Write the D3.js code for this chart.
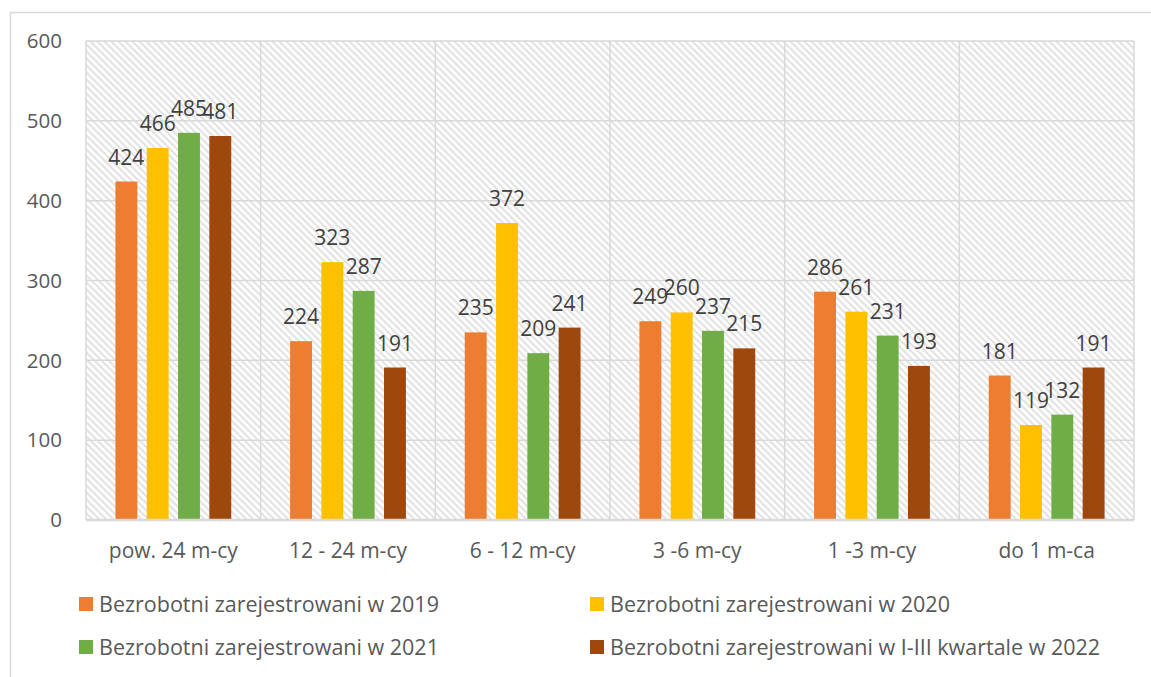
<!DOCTYPE html>
<html>
<head>
<meta charset="utf-8">
<script src="https://cdn.jsdelivr.net/npm/d3@7"></script>
<style>
  body { margin: 0; background: #fff; }
  text { font-family: "Open Sans", "Noto Sans", sans-serif; }
</style>
</head>
<body>
<svg id="chartSvg" width="1151" height="677"></svg>
<script>
const categories = ['pow. 24 m-cy', '12 - 24 m-cy', '6 - 12 m-cy', '3 -6 m-cy', '1 -3 m-cy', 'do 1 m-ca']
const seriesNames = [
    'Bezrobotni zarejestrowani w 2019',
    'Bezrobotni zarejestrowani w 2020',
    'Bezrobotni zarejestrowani w 2021',
    'Bezrobotni zarejestrowani w I-III kwartale w 2022'
]
const values2019 = [424, 224, 235, 249, 286, 181]
const values2020 = [466, 323, 372, 260, 261, 119]
const values2021 = [485, 287, 209, 237, 231, 132]
const values2022 = [481, 191, 241, 215, 193, 191]
const yTicks = [0, 100, 200, 300, 400, 500, 600]
const colours = ['#ed7d31', '#ffc000', '#70ad47', '#9e480e']

const allSeries = [values2019, values2020, values2021, values2022]

window.onload = function(){
    const svg = d3.select('#chartSvg')
    const plot = {left: 86, right: 1134, top: 41, bottom: 520}

    // outer chart frame
    svg.append('rect')
        .attr('x', 10.5).attr('y', 12.5)
        .attr('width', 1150).attr('height', 680)
        .attr('fill', 'none').attr('stroke', '#d9d9d9').attr('stroke-width', 1.5)

    const defs = svg.append('defs')
    const pat = defs.append('pattern')
        .attr('id', 'hatch')
        .attr('patternUnits', 'userSpaceOnUse')
        .attr('width', 7).attr('height', 7)
    pat.append('rect').attr('width', 7).attr('height', 7).attr('fill', '#fff')
    pat.append('path')
        .attr('d', 'M-1,-1 L8,8 M-8,-1 L1,8 M6,-1 L15,8')
        .attr('stroke', '#e3e3e3').attr('stroke-width', 2)

    const x = d3.scaleBand()
        .domain(categories)
        .range([plot.left, plot.right])

    const x1 = d3.scaleBand()
        .domain(d3.range(allSeries.length))
        .range([0, x.bandwidth()])
        .paddingInner(0.3)
        .paddingOuter(0.94)

    const y = d3.scaleLinear()
        .domain([0, 600])
        .range([plot.bottom, plot.top])

    svg.append('rect')
        .attr('x', plot.left).attr('y', plot.top)
        .attr('width', plot.right - plot.left).attr('height', plot.bottom - plot.top)
        .attr('fill', 'url(#hatch)')

    // horizontal gridlines
    svg.append('g')
        .selectAll('line')
        .data(yTicks)
        .join('line')
        .attr('x1', plot.left).attr('x2', plot.right)
        .attr('y1', d => y(d)).attr('y2', d => y(d))
        .attr('stroke', '#d9d9d9').attr('stroke-width', 1.5)

    // vertical gridlines at category boundaries
    const bounds = categories.map(c => x(c)).concat([plot.right])
    svg.append('g')
        .selectAll('line')
        .data(bounds)
        .join('line')
        .attr('x1', d => d).attr('x2', d => d)
        .attr('y1', plot.top).attr('y2', plot.bottom)
        .attr('stroke', '#d9d9d9').attr('stroke-width', 1.5)

    // y tick labels
    svg.append('g')
        .selectAll('text')
        .data(yTicks)
        .join('text')
        .attr('x', 62).attr('y', d => y(d))
        .attr('dy', '0.35em')
        .attr('text-anchor', 'end')
        .attr('font-size', 20.5)
        .attr('fill', '#595959')
        .text(d => d)

    // bars
    const groups = svg.append('g')
        .selectAll('g')
        .data(categories)
        .join('g')
        .attr('transform', d => d3Helper.getTranslateString(x(d), 0))

    groups.selectAll('rect')
        .data((c, ci) => allSeries.map((s, si) => ({si: si, v: s[ci]})))
        .join('rect')
        .attr('x', d => x1(d.si))
        .attr('width', x1.bandwidth())
        .attr('y', d => y(d.v))
        .attr('height', d => y(0) - y(d.v))
        .attr('fill', d => colours[d.si])

    groups.selectAll('text')
        .data((c, ci) => allSeries.map((s, si) => ({si: si, v: s[ci]})))
        .join('text')
        .attr('x', d => x1(d.si) + x1.bandwidth() / 2)
        .attr('y', d => y(d.v) - 17)
        .attr('text-anchor', 'middle')
        .attr('font-size', 21)
        .attr('fill', '#404040')
        .text(d => d.v)

    // bottom axis line
    svg.append('line')
        .attr('x1', plot.left).attr('x2', plot.right)
        .attr('y1', plot.bottom).attr('y2', plot.bottom)
        .attr('stroke', '#d9d9d9').attr('stroke-width', 2.5)

    // category labels
    svg.append('g')
        .selectAll('text')
        .data(categories)
        .join('text')
        .attr('x', d => x(d) + x.bandwidth() / 2)
        .attr('y', 551)
        .attr('dy', '0.35em')
        .attr('text-anchor', 'middle')
        .attr('font-size', 21)
        .attr('fill', '#595959')
        .text(d => d)

    // legend
    const legendPos = [[79, 604], [590, 604], [79, 647], [590, 647]]
    const legend = svg.append('g')
        .selectAll('g')
        .data(seriesNames)
        .join('g')
        .attr('transform', (d, i) => d3Helper.getTranslateString(legendPos[i][0], legendPos[i][1]))
    legend.append('rect')
        .attr('x', 0).attr('y', -7)
        .attr('width', 14).attr('height', 14)
        .attr('fill', (d, i) => colours[i])
    legend.append('text')
        .attr('x', 20).attr('y', 0)
        .attr('dy', '0.35em')
        .attr('font-size', 21.5)
        .attr('fill', '#595959')
        .text(d => d)
}

class d3Helper {
    static getTranslateString(x, y){
        return "translate(" + x + "," + y + ")"
    }
}
</script>
</body>
</html>
